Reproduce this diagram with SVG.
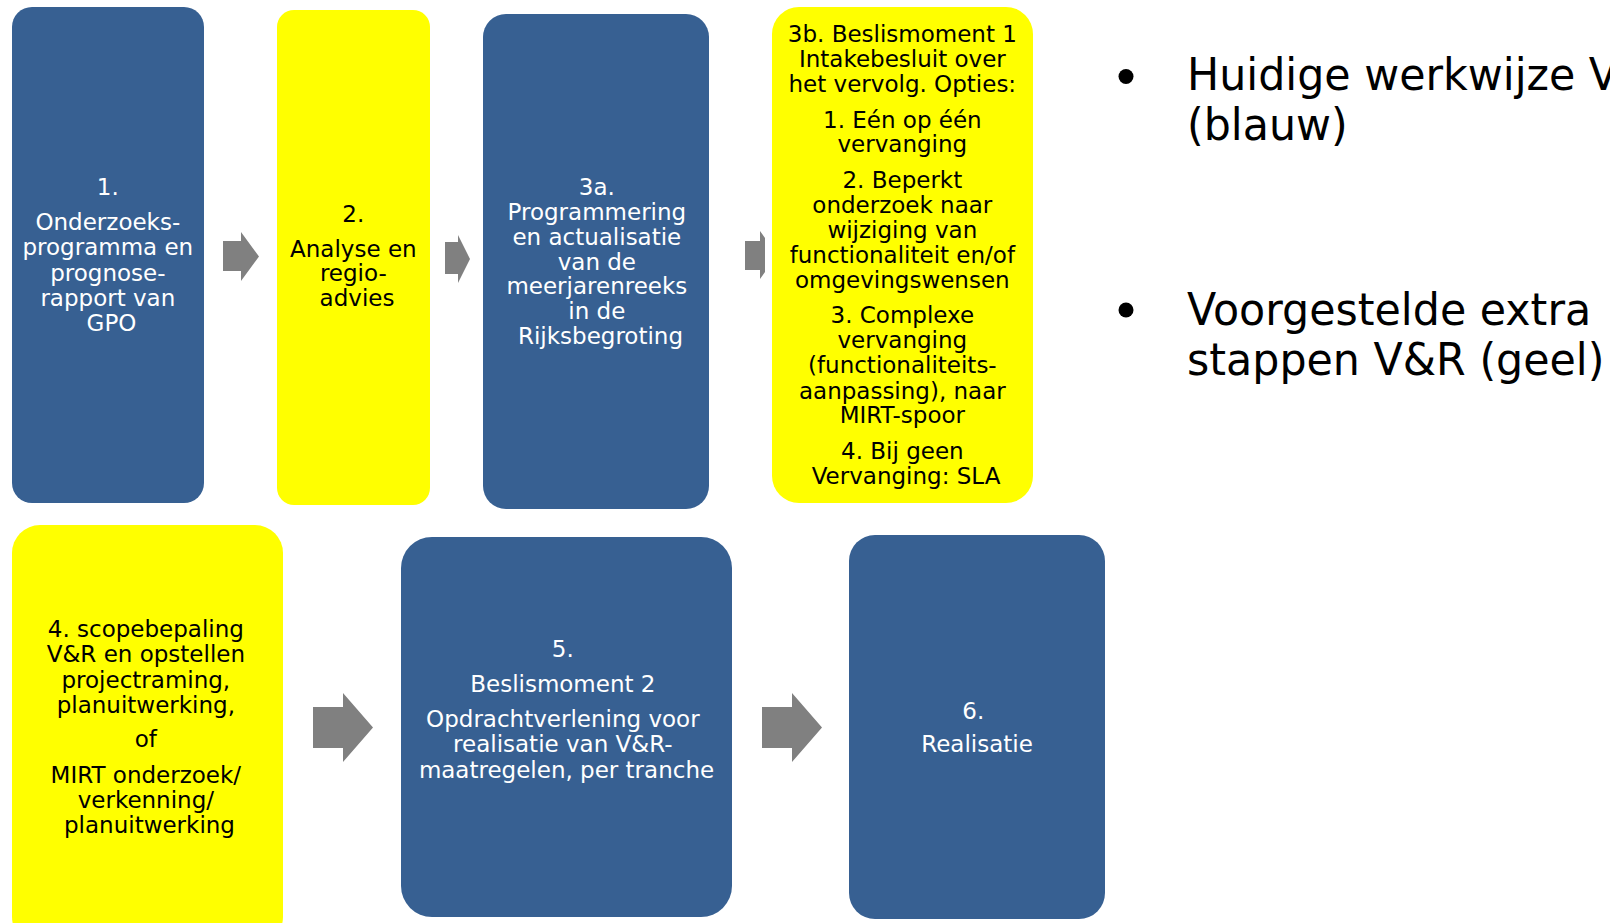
<svg xmlns="http://www.w3.org/2000/svg" width="1610" height="923" viewBox="0 0 1610 923">
  <style>
    .blue { fill: #376092; }
    .yellow { fill: #FFFF00; }
    .lbl { font-family: "DejaVu Sans", Verdana, sans-serif; font-size: 23px; text-anchor: middle; }
    .w { fill: #FFFFFF; }
    .k { fill: #000000; }
    .arrow { fill: #808080; }
    .legend { font-family: "DejaVu Sans", Verdana, sans-serif; font-size: 44px; fill: #000000; }
  </style>

  <rect width="1610" height="923" fill="#FFFFFF"/>

  <!-- Process steps -->
  <g id="step1">
    <rect class="blue" x="12" y="7" width="192" height="496" rx="20" ry="20"/>
    <text class="lbl w">
      <tspan x="111.5" y="195">1.</tspan>
      <tspan x="111.5" y="230">Onderzoeks-</tspan>
      <tspan x="111.5" y="255.3">programma en</tspan>
      <tspan x="111.5" y="280.6">prognose-</tspan>
      <tspan x="111.5" y="305.9">rapport van</tspan>
      <tspan x="111.5" y="331">GPO</tspan>
    </text>
  </g>

  <g id="step2">
    <rect class="yellow" x="277" y="10" width="153" height="495" rx="17" ry="17"/>
    <text class="lbl k">
      <tspan x="357" y="221.7">2.</tspan>
      <tspan x="357" y="257">Analyse en</tspan>
      <tspan x="357" y="281.3">regio-</tspan>
      <tspan x="357" y="306">advies</tspan>
    </text>
  </g>

  <g id="step3a">
    <rect class="blue" x="483" y="14" width="226" height="495" rx="23" ry="23"/>
    <text class="lbl w">
      <tspan x="600.5" y="195">3a.</tspan>
      <tspan x="600.5" y="220">Programmering</tspan>
      <tspan x="600.5" y="245">en actualisatie</tspan>
      <tspan x="600.5" y="269.5">van de</tspan>
      <tspan x="600.5" y="294.3">meerjarenreeks</tspan>
      <tspan x="600.5" y="319.3">in de</tspan>
      <tspan x="600.5" y="344.3">Rijksbegroting</tspan>
    </text>
  </g>

  <g id="step3b">
    <rect class="yellow" x="772" y="7" width="261" height="496" rx="27" ry="27"/>
    <text class="lbl k">
      <tspan x="906" y="41.7">3b. Beslismoment 1</tspan>
      <tspan x="906" y="66.7">Intakebesluit over</tspan>
      <tspan x="906" y="91.7">het vervolg. Opties:</tspan>
      <tspan x="906" y="127.7">1. Eén op één</tspan>
      <tspan x="906" y="152">vervanging</tspan>
      <tspan x="906" y="187.7">2. Beperkt</tspan>
      <tspan x="906" y="212.7">onderzoek naar</tspan>
      <tspan x="906" y="237.7">wijziging van</tspan>
      <tspan x="906" y="262.7">functionaliteit en/of</tspan>
      <tspan x="906" y="287.5">omgevingswensen</tspan>
      <tspan x="906" y="323.3">3. Complexe</tspan>
      <tspan x="906" y="348.3">vervanging</tspan>
      <tspan x="906" y="373.3">(functionaliteits-</tspan>
      <tspan x="906" y="398.5">aanpassing), naar</tspan>
      <tspan x="906" y="423.3">MIRT-spoor</tspan>
      <tspan x="906" y="459.3">4. Bij geen</tspan>
      <tspan x="906" y="484">Vervanging: SLA</tspan>
    </text>
  </g>

  <g id="step4">
    <rect class="yellow" x="12" y="525" width="271" height="420" rx="28" ry="28"/>
    <text class="lbl k">
      <tspan x="149.5" y="636.7">4. scopebepaling</tspan>
      <tspan x="149.5" y="662.3">V&amp;R en opstellen</tspan>
      <tspan x="149.5" y="687.5">projectraming,</tspan>
      <tspan x="149.5" y="712.5">planuitwerking,</tspan>
      <tspan x="149.5" y="746.7">of</tspan>
      <tspan x="149.5" y="783">MIRT onderzoek/</tspan>
      <tspan x="149.5" y="807.5">verkenning/</tspan>
      <tspan x="149.5" y="832.5">planuitwerking</tspan>
    </text>
  </g>

  <g id="step5">
    <rect class="blue" x="401" y="537" width="331" height="380" rx="31" ry="31"/>
    <text class="lbl w">
      <tspan x="566.5" y="656.7">5.</tspan>
      <tspan x="566.5" y="691.7">Beslismoment 2</tspan>
      <tspan x="566.5" y="726.7">Opdrachtverlening voor</tspan>
      <tspan x="566.5" y="752">realisatie van V&amp;R-</tspan>
      <tspan x="566.5" y="777.5">maatregelen, per tranche</tspan>
    </text>
  </g>

  <g id="step6">
    <rect class="blue" x="849" y="535" width="256" height="384" rx="26" ry="26"/>
    <text class="lbl w">
      <tspan x="977" y="719">6.</tspan>
      <tspan x="977" y="752">Realisatie</tspan>
    </text>
  </g>

  <!-- Block arrows between steps -->
  <g id="connectors">
    <polygon class="arrow" points="223,241 241,241 241,232 259,256.5 241,281 241,271 223,271"/>
    <polygon class="arrow" points="445,242 458,242 458,235 470,259 458,283 458,274 445,274"/>
    <polygon class="arrow" points="745,241 760,241 760,231 765,238 765,272 760,279 760,270 745,270"/>
    <polygon class="arrow" points="313,707 343,707 343,693 373,727.5 343,762 343,748 313,748"/>
    <polygon class="arrow" points="762,707 792,707 792,693 822,727.5 792,762 792,748 762,748"/>
  </g>

  <!-- Colour legend -->
  <g id="legend">
    <circle cx="1126" cy="76.5" r="7.5" fill="#000000"/>
    <circle cx="1126" cy="310" r="7.5" fill="#000000"/>
    <text class="legend" transform="translate(1187,0) scale(0.972,1)">
      <tspan x="0" y="90">Huidige werkwijze V</tspan>
      <tspan x="0" y="140">(blauw)</tspan>
      <tspan x="0" y="325">Voorgestelde extra</tspan>
      <tspan x="0" y="375">stappen V&amp;R (geel)</tspan>
    </text>
  </g>
</svg>
